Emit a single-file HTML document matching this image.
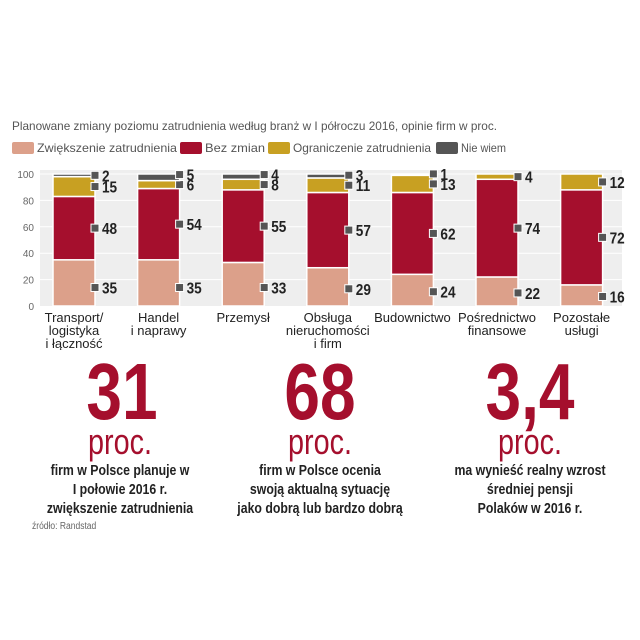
<!DOCTYPE html>
<html><head><meta charset="utf-8"><style>
body{margin:0;background:#fff;font-family:"Liberation Sans",sans-serif;}
#wrap{position:relative;width:640px;height:640px;overflow:hidden;}
.big{position:absolute;width:240px;text-align:center;color:#a50f2d;font-weight:bold;font-size:80px;line-height:1;transform:scaleX(0.8);}
.proc{position:absolute;width:240px;text-align:center;color:#a50f2d;font-size:36px;line-height:1;transform:scaleX(0.8);}
.desc{position:absolute;width:260px;text-align:center;color:#222;font-weight:bold;font-size:15px;line-height:19px;transform:scaleX(0.82);}
</style></head><body><div id="wrap">
<svg id="chart" width="640" height="350" style="position:absolute;left:0;top:0"></svg>
<div class="big" style="left:2px;top:352px">31</div>
<div class="proc" style="left:0;top:424px">proc.</div>
<div class="desc" style="left:-10px;top:461px">firm w Polsce planuje w<br>I połowie 2016 r.<br>zwiększenie zatrudnienia</div>
<div class="big" style="left:200px;top:352px">68</div>
<div class="proc" style="left:200px;top:424px">proc.</div>
<div class="desc" style="left:190px;top:461px">firm w Polsce ocenia<br>swoją aktualną sytuację<br>jako dobrą lub bardzo dobrą</div>
<div class="big" style="left:410px;top:352px">3,4</div>
<div class="proc" style="left:410px;top:424px">proc.</div>
<div class="desc" style="left:400px;top:461px">ma wynieść realny wzrost<br>średniej pensji<br>Polaków w 2016 r.</div>
<div style="position:absolute;left:32px;top:521px;font-size:10px;color:#666;transform:scaleX(0.85);transform-origin:left">źródło: Randstad</div>
</div>
<script>
const categories=[["Transport/","logistyka","i łączność"],["Handel","i naprawy"],["Przemysł"],["Obsługa","nieruchomości","i firm"],["Budownictwo"],["Pośrednictwo","finansowe"],["Pozostałe","usługi"]];
const seriesNames=["Zwiększenie zatrudnienia","Bez zmian","Ograniczenie zatrudnienia","Nie wiem"];
const zwiekszenie=[35,35,33,29,24,22,16];
const bezZmian=[48,54,55,57,62,74,72];
const ograniczenie=[15,6,8,11,13,4,12];
const nieWiem=[2,5,4,3,1,0,0];
const yTicks=[0,20,40,60,80,100];
const colors=["#dca08a","#a50f2d","#c8a022","#555555"];
const NS="http://www.w3.org/2000/svg";
const svg=document.getElementById('chart');
const y0=306,y1=174;
const Y=v=>y0-(y0-y1)*v/100;
const X=i=>74+i*84.6;
const bw=42;
function mk(t,a,txt){const e=document.createElementNS(NS,t);for(const k in a)e.setAttribute(k,a[k]);if(txt!==undefined)e.textContent=txt;svg.appendChild(e);return e;}
let t=mk('text',{x:12,y:130,'font-size':12,fill:'#555',textLength:485,lengthAdjust:'spacingAndGlyphs'},'Planowane  zmiany poziomu zatrudnienia według branż w I półroczu 2016, opinie firm w proc.');


let lx=[12,180,268,436];
let lw=[140,60,138,45];
seriesNames.forEach((n,i)=>{
 let r=mk('rect',{x:lx[i],y:142,width:22,height:12,rx:2,fill:colors[i]});
 
 
 let tx=mk('text',{x:lx[i]+25,y:152,'font-size':12,fill:'#555',textLength:lw[i],lengthAdjust:'spacingAndGlyphs'},n);
 
 
});
let bg=mk('rect',{x:40,y:170,width:582,height:136,fill:'#eeeeee'});


yTicks.forEach(v=>{
 if(v>0){let g=mk('line',{x1:40,x2:622,y1:Y(v),y2:Y(v),stroke:'#fff','stroke-width':1});
 
 }
 let tt=mk('text',{x:34,y:Y(v)+4,'font-size':10,fill:'#666','text-anchor':'end'},v);
 
 
});
const series=[zwiekszenie,bezZmian,ograniczenie,nieWiem];
categories.forEach((c,i)=>{
 let acc=0,prevLy=999;
 series.forEach((s,j)=>{
  const v=s[i];if(!v)return;
  let r=mk('rect',{x:X(i)-bw/2,y:Y(acc+v),width:bw,height:Y(acc)-Y(acc+v),fill:colors[j],stroke:'#fff','stroke-width':1.5});
  
  
  let mid=j==0?Math.min(14,v*0.45):acc+v/2;
  let ly=Y(mid);
  if(ly>prevLy-10)ly=prevLy-10;
  prevLy=ly;
  acc+=v;
  let mx=X(i)+bw/2-4;
  let m=mk('rect',{x:mx,y:ly-4,width:8,height:8,fill:'#555',stroke:'#fff','stroke-width':1});
  
  
  let lt=mk('text',{x:mx+11,y:ly+6,'font-size':16,'font-weight':'bold',fill:'#222',transform:'translate('+(mx+11)+',0) scale(0.85,1) translate('+(-(mx+11))+',0)'},v);
  
  
 });
 c.forEach((line,k)=>{
  let ct=mk('text',{x:X(i),y:322+k*13,'font-size':13,fill:'#222','text-anchor':'middle'},line);
  
  
 });
});
</script></body></html>
